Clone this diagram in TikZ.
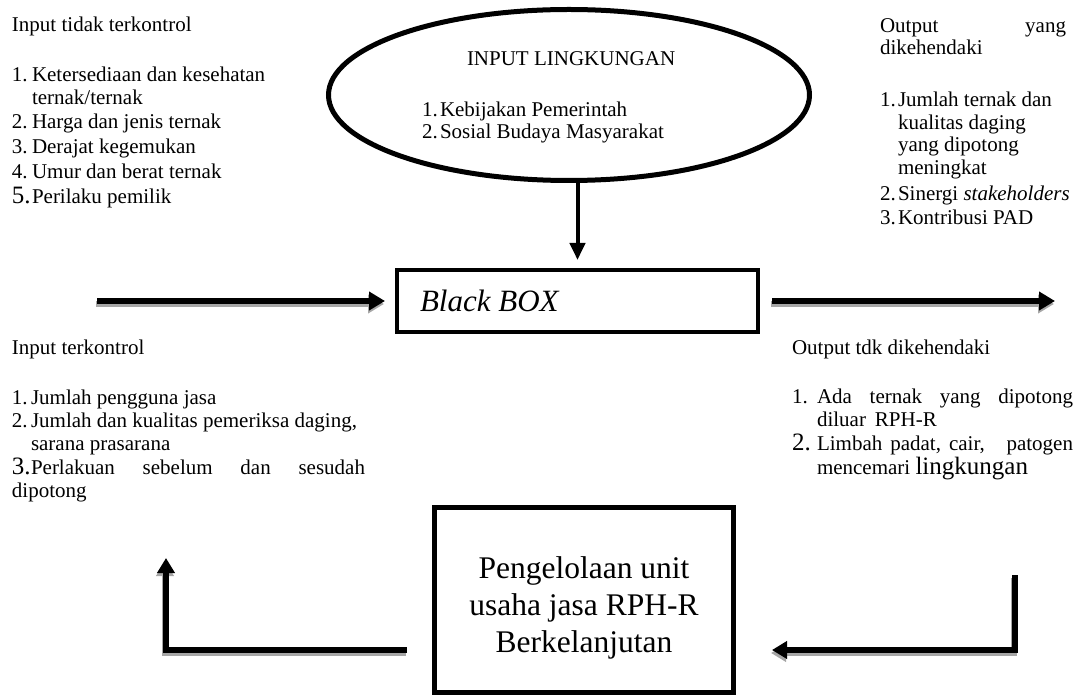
\documentclass[tikz,border=0pt]{standalone}
\usepackage{fontspec}
\setmainfont{Liberation Serif}
\usetikzlibrary{arrows.meta,shapes.geometric,calc}
\tikzset{
  txt/.style={inner sep=0pt, outer sep=0pt, anchor=base west, font=\fontsize{21}{24}\selectfont},
  bigno/.style={txt, font=\fontsize{25}{28}\selectfont},
  thickarrow/.style={line width=5.5pt, -{Triangle[width=18pt,length=16pt]}},
  fbarrow/.style={line width=5.5pt, line join=miter, -{Triangle[width=17pt,length=15pt]}},
  downarrow/.style={line width=4pt, -{Triangle[width=15pt,length=17pt]}},
  shadowcol/.style={draw=black!35, color=black!35},
}
\begin{document}
\begin{tikzpicture}[x=1pt,y=-1pt]
\useasboundingbox (0,0) rectangle (1076,700);

% ---------- top-left block ----------
\node[txt] (ltit) at (12,32) {Input tidak terkontrol};
\node[txt] (l1n) at (12,82) {1.};
\node[txt] (l1)  at (32,82) {Ketersediaan dan kesehatan};
\node[txt] (l1b) at (32,105) {ternak/ternak};
\node[txt] (l2n) at (12,129) {2.};
\node[txt] (l2)  at (32,129) {Harga dan jenis ternak};
\node[txt] (l3n) at (12,154) {3.};
\node[txt] (l3)  at (32,154) {Derajat kegemukan};
\node[txt] (l4n) at (12,179) {4.};
\node[txt] (l4)  at (32,179) {Umur dan berat ternak};
\node[bigno] (l5n) at (12,204) {5.};
\node[txt] (l5)  at (32,204) {Perilaku pemilik};

% ---------- ellipse ----------
\node[draw, ellipse, line width=5pt, minimum width=481pt, minimum height=171pt,
      inner sep=0pt, outer sep=0pt] (env) at (569,95) {};
\node[txt] (envt) at (467,66) {INPUT LINGKUNGAN};
\node[txt] (e1n) at (422,117) {1.};
\node[txt] (e1)  at (440,117) {Kebijakan Pemerintah};
\node[txt] (e2n) at (422,139) {2.};
\node[txt] (e2)  at (440,139) {Sosial Budaya Masyarakat};

% ---------- top-right block ----------
\node[txt] (rt1) at (880,33) {\hbox to 186pt{Output\hfill yang}};
\node[txt] (rt2) at (880,55) {dikehendaki};
\node[txt] (r1n) at (880,107) {1.};
\node[txt] (r1)  at (898,107) {Jumlah ternak dan};
\node[txt] (r1b) at (898,130) {kualitas daging};
\node[txt] (r1c) at (898,152) {yang dipotong};
\node[txt] (r1d) at (898,175) {meningkat};
\node[txt] (r2n) at (880,201) {2.};
\node[txt] (r2)  at (898,201) {Sinergi \textit{stakeholders}};
\node[txt] (r3n) at (880,225) {3.};
\node[txt] (r3)  at (898,225) {Kontribusi PAD};

% ---------- black box ----------
\node[draw, line width=4.5pt, minimum width=361pt, minimum height=62pt,
      inner sep=0pt, outer sep=0pt] (bb) at (577.5,301) {};
\node[txt, font=\fontsize{31}{36}\selectfont\itshape] (bbt) at (420,312) {Black BOX};

% ---------- bottom-left block ----------
\node[txt] (bt)  at (12,355) {Input terkontrol};
\node[txt] (b1n) at (12,404) {1.};
\node[txt] (b1)  at (31,404) {Jumlah pengguna jasa};
\node[txt] (b2n) at (12,427) {2.};
\node[txt] (b2)  at (31,427) {Jumlah dan kualitas pemeriksa daging,};
\node[txt] (b2b) at (31,450) {sarana prasarana};
\node[bigno] (b3n) at (12,474) {3.};
\node[txt] (b3)  at (31,474) {\hbox to 334pt{Perlakuan\hfill sebelum\hfill dan\hfill sesudah}};
\node[txt] (b3b) at (12,497) {dipotong};

% ---------- bottom-right block ----------
\node[txt] (rbt)  at (792,355) {Output tdk dikehendaki};
\node[txt] (rb1n) at (792,403) {1.};
\node[txt] (rb1)  at (817,403) {\hbox to 256pt{Ada\hfill ternak\hfill yang\hfill dipotong}};
\node[txt] (rb1b) at (817,426) {diluar\hspace{9pt}RPH-R};
\node[bigno] (rb2n) at (792,450) {2.};
\node[txt] (rb2)  at (817,450) {\hbox to 256pt{Limbah\hspace{8pt}padat,\hspace{8pt}cair,\hfill patogen}};
\node[txt] (rb2b) at (817,474) {mencemari {\fontsize{25}{28}\selectfont lingkungan}};

% ---------- management box ----------
\node[draw, line width=5pt, minimum width=299pt, minimum height=185pt,
      inner sep=0pt, outer sep=0pt] (mg) at (584,600) {};
\node[inner sep=0pt, align=center, font=\fontsize{31.5}{37}\selectfont] (mgt) at (584,608)
  {Pengelolaan unit\\usaha jasa RPH-R\\Berkelanjutan};

% ---------- coordinates ----------
\coordinate (inL)  at (97,301);
\coordinate (outR) at (1055,301);
\coordinate (fbL)  at (166,558);
\coordinate (fbR)  at (1015,575);

% ---------- shadows ----------
\begin{scope}[transform canvas={shift={(-1,3)}}]
  \draw[thickarrow, shadowcol] (inL) -- ([xshift=-12pt]bb.west);
  \draw[thickarrow, shadowcol] ([xshift=14pt]bb.east) -- (outR);
  \draw[fbarrow, shadowcol] ([shift={(-27.5,50)}]mg.west) -| (fbL);
  \draw[fbarrow, shadowcol] (fbR) |- ([shift={(38.5,50)}]mg.east);
\end{scope}

% ---------- connectors ----------
\draw[downarrow] (env.south -| bb.north) -- ([yshift=10pt]bb.north);
\draw[thickarrow] (inL) -- ([xshift=-12pt]bb.west);
\draw[thickarrow] ([xshift=14pt]bb.east) -- (outR);
\draw[fbarrow] ([shift={(-27.5,50)}]mg.west) -| (fbL);
\draw[fbarrow] (fbR) |- ([shift={(38.5,50)}]mg.east);
\end{tikzpicture}
\end{document}
